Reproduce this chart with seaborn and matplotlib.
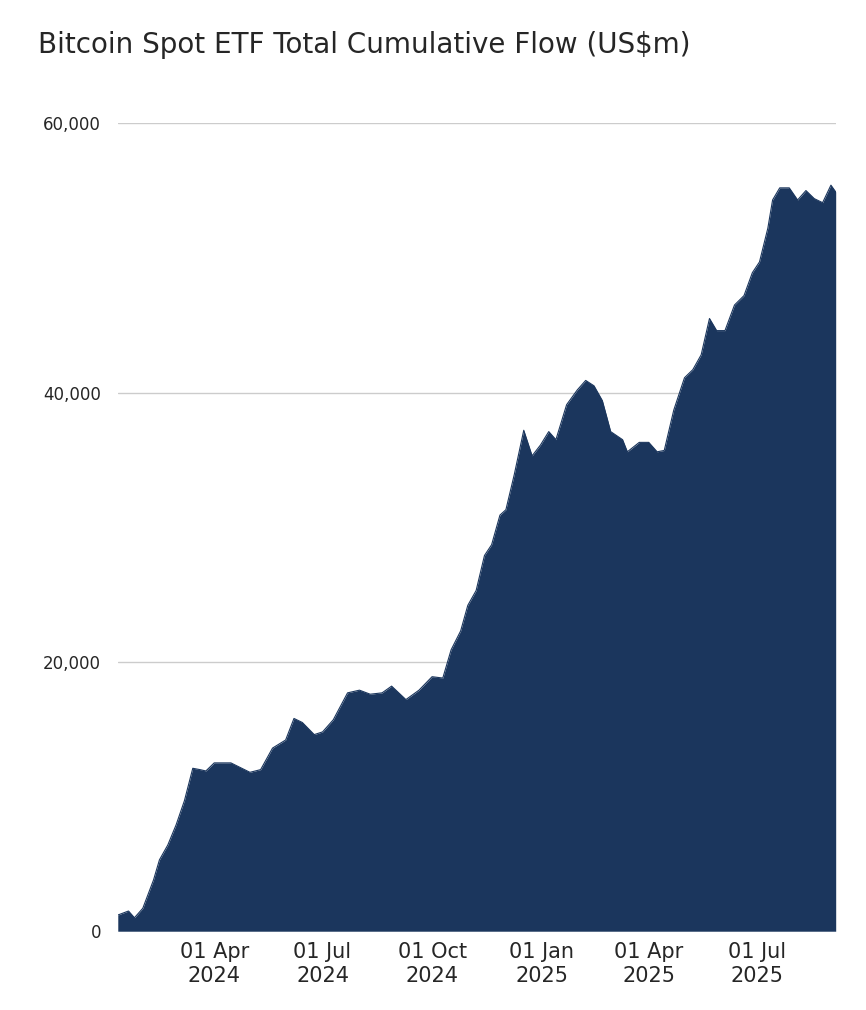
import pandas as pd
import matplotlib
matplotlib.use("Agg")
import matplotlib.pyplot as plt
import matplotlib.dates as mdates
import seaborn as sns

# cumulative flow, US$m
dates = [
    "2024-01-11", "2024-01-20", "2024-01-25", "2024-02-01", "2024-02-10", "2024-02-15",
    "2024-02-22", "2024-02-29", "2024-03-07", "2024-03-14", "2024-03-20", "2024-03-25",
    "2024-04-01", "2024-04-15", "2024-05-01", "2024-05-10", "2024-05-20", "2024-05-31",
    "2024-06-07", "2024-06-14", "2024-06-24", "2024-07-01", "2024-07-10", "2024-07-22",
    "2024-08-01", "2024-08-10", "2024-08-20", "2024-08-28", "2024-09-09", "2024-09-20",
    "2024-10-01", "2024-10-10", "2024-10-17", "2024-10-25", "2024-10-31", "2024-11-07",
    "2024-11-14", "2024-11-20", "2024-11-27", "2024-12-02", "2024-12-09", "2024-12-17",
    "2024-12-24", "2024-12-31", "2025-01-07", "2025-01-13", "2025-01-22", "2025-01-31",
    "2025-02-07", "2025-02-14", "2025-02-21", "2025-02-28", "2025-03-10", "2025-03-14",
    "2025-03-24", "2025-04-01", "2025-04-08", "2025-04-14", "2025-04-22", "2025-05-01",
    "2025-05-08", "2025-05-15", "2025-05-22", "2025-05-28", "2025-06-04", "2025-06-12",
    "2025-06-20", "2025-06-27", "2025-07-03", "2025-07-10", "2025-07-14", "2025-07-20",
    "2025-07-28", "2025-08-04", "2025-08-11", "2025-08-18", "2025-08-25", "2025-09-01",
    "2025-09-05",
]
flow = [
    1200, 1500, 1000, 1700, 3800, 5300,
    6400, 7900, 9700, 12100, 12000, 11900,
    12500, 12500, 11800, 12000, 13600, 14200,
    15800, 15500, 14600, 14800, 15700, 17700,
    17900, 17600, 17700, 18200, 17200, 17900,
    18900, 18800, 20900, 22300, 24200, 25300,
    27900, 28700, 30900, 31300, 33900, 37200,
    35300, 36100, 37100, 36500, 39100, 40200,
    40900, 40500, 39400, 37100, 36500, 35600,
    36300, 36300, 35600, 35700, 38700, 41100,
    41700, 42800, 45500, 44600, 44600, 46500,
    47200, 48900, 49700, 52200, 54300, 55200,
    55200, 54300, 55000, 54400, 54100, 55400,
    54900,
]
y_ticks = [0, 20000, 40000, 60000]

df = pd.DataFrame({"date": pd.to_datetime(dates), "flow": flow})
color = "#1b365d"

sns.set_style("white")
fig = plt.figure(figsize=(8.66, 10.10), dpi=100)
ax = fig.add_axes([0.136, 0.078, 0.829, 0.80])

ax.fill_between(df["date"], df["flow"], 0, color=color, lw=0)
sns.lineplot(data=df, x="date", y="flow", ax=ax, color=color, lw=0.8)

ax.set_xlim(df["date"].iloc[0], df["date"].iloc[-1])
ax.set_ylim(0, 60000)
ax.set_yticks(y_ticks)
ax.set_yticklabels([f"{v:,}" for v in y_ticks], fontsize=12)
ax.yaxis.grid(True, color="#cccccc", lw=1)
ax.set_axisbelow(True)
ax.xaxis.set_major_locator(mdates.MonthLocator(bymonth=[1, 4, 7, 10]))
ax.xaxis.set_major_formatter(mdates.DateFormatter("%d %b\n%Y"))
ax.tick_params(axis="x", labelsize=15, length=0, pad=8)
ax.tick_params(axis="y", length=0, pad=12)
ax.set_xlabel("")
ax.set_ylabel("")
for s in ax.spines.values():
    s.set_visible(False)

fig.text(0.044, 0.955, "Bitcoin Spot ETF Total Cumulative Flow (US$m)", fontsize=20,
         ha="left", va="center")

fig.savefig("out.png", dpi=100)
